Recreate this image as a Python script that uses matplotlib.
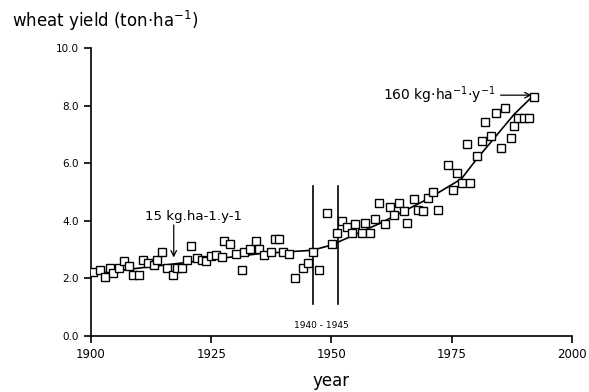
import matplotlib
matplotlib.use("Agg")
import matplotlib.pyplot as plt

plt.rcParams['font.family'] = ['DejaVu Sans']
plt.rcParams['mathtext.fontset'] = 'dejavusans'

years = [1900.5, 1901.9, 1902.9, 1904.0, 1904.6, 1905.9, 1906.9, 1907.8, 1908.8, 1910.0,
         1910.9, 1911.9, 1913.0, 1913.8, 1914.7, 1915.9, 1917.1, 1917.8, 1918.9, 1919.9,
         1920.7, 1922.0, 1923.0, 1924.0, 1924.9, 1926.0, 1927.2, 1927.7, 1929.0, 1930.1,
         1931.3, 1931.8, 1933.0, 1934.3, 1934.9, 1936.0, 1937.4, 1938.3, 1939.0, 1939.9,
         1941.2, 1942.4, 1944.1, 1945.2, 1946.2, 1947.3, 1949.0, 1950.2, 1951.1, 1952.1,
         1953.2, 1954.2, 1954.9, 1956.3, 1957.0, 1958.0, 1959.0, 1959.9, 1961.1, 1962.2,
         1963.0, 1964.0, 1965.1, 1965.8, 1967.2, 1968.0, 1969.0, 1970.1, 1971.2, 1972.2,
         1974.2, 1975.2, 1976.0, 1977.1, 1978.1, 1978.9, 1980.2, 1981.2, 1981.9, 1983.1,
         1984.2, 1985.3, 1986.1, 1987.3, 1988.0, 1988.8, 1990.0, 1991.1, 1992.2]
yields = [2.22, 2.28, 2.03, 2.37, 2.19, 2.37, 2.60, 2.42, 2.10, 2.10,
          2.63, 2.53, 2.45, 2.63, 2.92, 2.37, 2.10, 2.37, 2.37, 2.63,
          3.11, 2.69, 2.63, 2.60, 2.77, 2.80, 2.72, 3.30, 3.20, 2.84,
          2.30, 2.92, 3.00, 3.30, 3.00, 2.80, 2.92, 3.35, 3.35, 2.92,
          2.84, 1.99, 2.37, 2.51, 2.92, 2.30, 4.25, 3.20, 3.58, 3.99,
          3.78, 3.58, 3.88, 3.58, 3.92, 3.57, 4.04, 4.62, 3.88, 4.48,
          4.19, 4.62, 4.34, 3.92, 4.74, 4.36, 4.34, 4.80, 5.00, 4.36,
          5.93, 5.06, 5.64, 5.31, 6.68, 5.31, 6.24, 6.77, 7.44, 6.93,
          7.74, 6.54, 7.91, 6.86, 7.28, 7.55, 7.55, 7.55, 8.28]

trend_years = [1900, 1910, 1920, 1935, 1946, 1950, 1960, 1970, 1977, 1980, 1984, 1988, 1992]
trend_yield = [2.15, 2.35, 2.55, 2.85, 2.97, 3.15, 3.90, 4.75, 5.45, 6.10, 6.90, 7.70, 8.35]

war_years = [1946.2, 1951.3]
xticks = [1900, 1925, 1950, 1975, 2000]
yticks = [0.0, 2.0, 4.0, 6.0, 8.0, 10.0]
ytick_labels = ["0.0", "2.0", "4.0", "6.0", "8.0", "10.0"]

fig = plt.figure(figsize=(5.89, 3.92), dpi=100)
ax = fig.add_axes([0.1545, 0.1436, 0.8166, 0.734])

ax.plot(trend_years, trend_yield, color='black', lw=1.2, zorder=2)
ax.plot(years, yields, linestyle='none', marker='s', markersize=6,
        markerfacecolor='white', markeredgecolor='black', markeredgewidth=1.0, zorder=3)

for wy in war_years:
    ax.plot([wy, wy], [1.1, 5.2], color='black', lw=1.2, zorder=1)

ax.set_xlim(1900, 2000)
ax.set_ylim(0, 10)
ax.set_xticks(xticks)
ax.set_xticklabels([str(t) for t in xticks], fontsize=8.5)
ax.set_yticks(yticks)
ax.set_yticklabels(ytick_labels, fontsize=7.5)
ax.tick_params(axis='both', direction='out', length=5, width=1.2, pad=4)
for s in ['top', 'right']:
    ax.spines[s].set_visible(False)
for s in ['left', 'bottom']:
    ax.spines[s].set_linewidth(1.2)

fig.text(12/589, 1 - 21/392, r"wheat yield (ton$\cdot$ha$^{-1}$)", fontsize=12, va='center', ha='left')
fig.text(331/589, 1 - 381/392, "year", fontsize=12, ha='center', va='center')

ax.annotate("", xy=(1917.2, 2.72), xytext=(1917.2, 3.85),
            arrowprops=dict(arrowstyle='->', color='black', lw=0.9, shrinkA=0, shrinkB=0))
ax.text(1911.3, 3.9, "15 kg.ha-1.y-1", ha='left', va='bottom', fontsize=9.6)
ax.text(1947.8, 0.37, "1940 - 1945", fontsize=6.5, ha='center', va='center')
ax.annotate(r"160 kg$\cdot$ha$^{-1}$$\cdot$y$^{-1}$", xy=(1991.6, 8.36), xytext=(1984.0, 8.36),
            ha='right', va='center', fontsize=10,
            arrowprops=dict(arrowstyle='->', color='black', lw=0.9, shrinkA=2, shrinkB=0))

fig.savefig("out.png", dpi=100)
